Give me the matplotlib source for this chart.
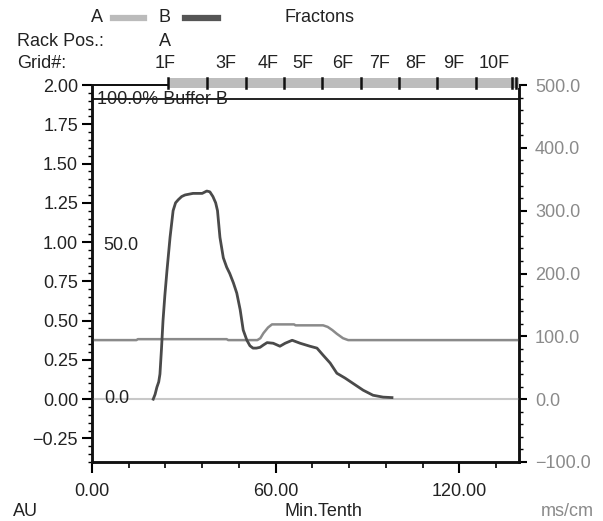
import matplotlib
matplotlib.use("Agg")
import matplotlib.pyplot as plt
from matplotlib.ticker import MultipleLocator, FuncFormatter
from matplotlib.patches import Rectangle
import matplotlib.transforms as mtransforms

plt.rcParams['font.family'] = ['Liberation Sans', 'DejaVu Sans']

# ---- data ----
# UV absorbance (B, dark) in AU, left axis
b_x = [20, 20.6, 21.2, 21.8, 22.2, 22.7, 23.2, 23.8, 24.5, 25.5, 26.5, 27.3, 28.2, 29.3,
       30.4, 33, 36, 37.5, 38.5, 39.5, 40.4, 41, 41.8, 42.9, 44, 45, 46.2, 47.3, 48.4,
       49.4, 50.6, 51.6, 52.6, 53.7, 54.9, 56, 57.2, 59.2, 61.4, 63.1, 65.4, 68, 71.2,
       73.5, 75.5, 77.8, 80, 82.7, 85.3, 88.6, 91.8, 95.1, 98]
b_y = [0.0, 0.03, 0.076, 0.11, 0.16, 0.32, 0.50, 0.66, 0.82, 1.03, 1.20, 1.25, 1.27, 1.29,
       1.30, 1.31, 1.31, 1.325, 1.32, 1.29, 1.25, 1.20, 1.03, 0.90, 0.84, 0.80, 0.74,
       0.675, 0.57, 0.44, 0.375, 0.34, 0.325, 0.325, 0.33, 0.345, 0.36, 0.356, 0.337,
       0.356, 0.375, 0.356, 0.337, 0.325, 0.28, 0.23, 0.165, 0.134, 0.10, 0.057, 0.025,
       0.013, 0.01]
# Conductivity (A, gray) in ms/cm, right axis
g_x = [0, 14.5, 15, 44, 44.5, 54, 55, 56, 57.5, 58.8, 66, 66.5, 75.5, 77, 78.5, 80, 82,
       83.7, 139.5]
g_y = [94, 94, 95.5, 95.5, 94, 94, 97, 105, 114, 119, 119, 117.5, 117.5, 115, 110, 104,
       97, 94, 94]
# Gradient (% buffer B)
grad_x = [0, 139.5]
grad_y = [0.0, 0.0]
buffer_full_y = 1.91

frac_ticks = [24.8, 37.6, 50.3, 62.7, 75.2, 87.9, 100.3, 112.7, 125.5, 137.3, 138.4]
frac_labels = ['1F', '3F', '4F', '5F', '6F', '7F', '8F', '9F', '10F']
frac_label_x = [23.9, 43.8, 57.5, 69.0, 82.0, 94.1, 105.9, 118.3, 131.4]

XMAX = 139.5
FS = 13
DARK = '#222222'
GRAYTXT = '#8a8a8a'


def fmt(decimals):
    def f(v, pos):
        s = f'{abs(v):.{decimals}f}'
        return ('\u2212' + s) if v < -1e-9 else s
    return FuncFormatter(f)


fig = plt.figure(figsize=(6.03, 5.21), dpi=100)
ax = fig.add_axes([92/603, (521-462)/521, (519-92)/603, (462-85)/521])
ax2 = ax.twinx()

ax.set_xlim(0, XMAX)
ax.set_ylim(-0.4, 2.0)
ax2.set_ylim(-100, 500)

# lines
ax.plot(grad_x, grad_y, color='#c8c8c8', lw=1.5, zorder=1)
ax.plot([0, XMAX], [buffer_full_y, buffer_full_y], color='#111111', lw=1.3, zorder=2)
ax2.plot(g_x, g_y, color='#8a8a8a', lw=1.8, zorder=3, solid_joinstyle='round')
ax.plot(b_x, b_y, color='#4a4a4a', lw=2.0, zorder=4, solid_joinstyle='round')
ax.set_zorder(ax2.get_zorder() + 1)
ax.patch.set_visible(False)

# texts inside
ax.text(1.6, buffer_full_y, '100.0% Buffer B', fontsize=FS, color=DARK, va='center', ha='left')
ax.text(3.6, 0.98, '50.0', fontsize=FS, color=DARK, va='center', ha='left')
ax.text(4.0, 0.005, '0.0', fontsize=FS, color=DARK, va='center', ha='left')

# ticks
ax.xaxis.set_major_locator(MultipleLocator(60))
ax.xaxis.set_minor_locator(MultipleLocator(12))
ax.xaxis.set_major_formatter(fmt(2))
ax.yaxis.set_major_locator(MultipleLocator(0.25))
ax.yaxis.set_minor_locator(MultipleLocator(0.05))
ax.yaxis.set_major_formatter(fmt(2))
ax2.yaxis.set_major_locator(MultipleLocator(100))
ax2.yaxis.set_minor_locator(MultipleLocator(20))
ax2.yaxis.set_major_formatter(fmt(1))

ax.tick_params(axis='y', which='major', direction='out', length=7, width=1.5, pad=3,
               labelsize=FS, labelcolor=DARK)
ax.tick_params(axis='y', which='minor', direction='out', length=3, width=1)
ax.tick_params(axis='x', which='major', direction='out', length=8, width=1.5, pad=7,
               labelsize=FS, labelcolor=DARK)
ax.tick_params(axis='x', which='minor', direction='out', length=4, width=1.2)
ax2.tick_params(axis='y', which='major', direction='out', length=5.5, width=1.5, pad=6,
                labelsize=FS, labelcolor=GRAYTXT)
ax2.tick_params(axis='y', which='minor', direction='out', length=3, width=1)

for a in (ax, ax2):
    for s in a.spines.values():
        s.set_linewidth(1.8)
        s.set_color('#111111')
    a.spines['top'].set_linewidth(1.3)

# fraction band on top
trans = mtransforms.blended_transform_factory(ax.transData, ax.transAxes)
band = Rectangle((frac_ticks[0], 0.992), XMAX - frac_ticks[0], 0.0266, transform=trans,
                 facecolor='#bdbdbd', edgecolor='none', clip_on=False, zorder=5)
ax.add_patch(band)
for fx in frac_ticks:
    ax.plot([fx, fx], [0.992, 1.0186], transform=trans, color='#111111', lw=1.8,
            clip_on=False, zorder=6)

# fraction labels in the "Grid#" row
for lx, lab in zip(frac_label_x, frac_labels):
    xf = (92 + lx * (519 - 92) / XMAX) / 603
    fig.text(xf, 1 - 63/521, lab, fontsize=FS, color=DARK, ha='center', va='center')

# header
fig.text(97/603, 1 - 18/521, 'A', fontsize=FS, color=DARK, ha='center', va='center')
fig.add_artist(plt.Line2D([113/603, 144/603], [1 - 18/521, 1 - 18/521],
                          color='#bbbbbb', lw=4.5, transform=fig.transFigure))
fig.text(165/603, 1 - 18/521, 'B', fontsize=FS, color=DARK, ha='center', va='center')
fig.add_artist(plt.Line2D([185/603, 218/603], [1 - 18/521, 1 - 18/521],
                          color='#555555', lw=4.5, transform=fig.transFigure))
fig.text(320/603, 1 - 18/521, 'Fractons', fontsize=FS, color=DARK, ha='center', va='center')
fig.text(17/603, 1 - 42/521, 'Rack Pos.:', fontsize=FS, color=DARK, ha='left', va='center')
fig.text(165/603, 1 - 42/521, 'A', fontsize=FS, color=DARK, ha='center', va='center')
fig.text(17/603, 1 - 63/521, 'Grid#:', fontsize=FS, color=DARK, ha='left', va='center')

# bottom labels
fig.text(13/603, 1 - 512/521, 'AU', fontsize=FS, color=DARK, ha='left', va='center')
fig.text(323/603, 1 - 512/521, 'Min.Tenth', fontsize=FS, color=DARK, ha='center', va='center')
fig.text(594/603, 1 - 512/521, 'ms/cm', fontsize=FS, color=GRAYTXT, ha='right', va='center')

fig.savefig('out.png', dpi=100)
